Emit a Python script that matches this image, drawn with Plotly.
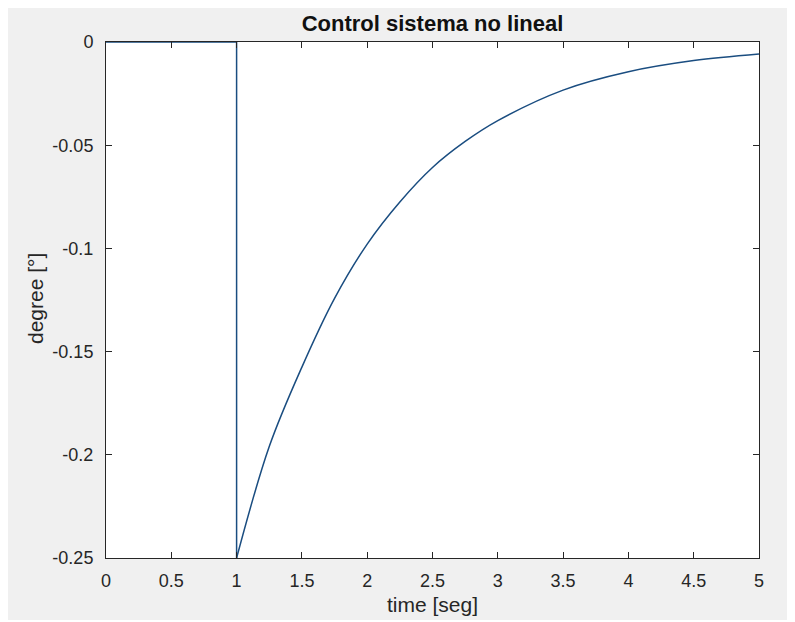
import plotly.graph_objects as go

# Step part of the response (before the disturbance decays)
step_t = [0, 1, 1]
step_deg = [0, 0, -0.25]

# Decay part
decay_t = [1, 1.25, 1.5, 1.75, 2, 2.25, 2.5, 2.75, 3, 3.5, 4, 4.5, 5]
decay_deg = [-0.25, -0.196, -0.1575, -0.1242, -0.0979, -0.0775, -0.0608,
             -0.0482, -0.0381, -0.0233, -0.0144, -0.0090, -0.0058]

x_ticks = [0, 0.5, 1, 1.5, 2, 2.5, 3, 3.5, 4, 4.5, 5]
x_labels = ["0", "0.5", "1", "1.5", "2", "2.5", "3", "3.5", "4", "4.5", "5"]
y_ticks = [0, -0.05, -0.1, -0.15, -0.2, -0.25]
y_labels = ["0", "-0.05", "-0.1", "-0.15", "-0.2", "-0.25"]

FONT = "Liberation Sans, Arial, sans-serif"
LINE = "#1a4d80"

# page offset of the figure (body margin) -> figure placed at (8, 8)
OFF = 8
# target page coordinates
FIG_R, FIG_B = 787, 620
PL, PR, PT, PB = 106, 759, 42, 558

W, H = FIG_R - OFF, FIG_B - OFF
L, T = PL - OFF, PT - OFF
R, B = FIG_R - PR, FIG_B - PB
pw, ph = PR - PL, PB - PT

def px(x):
    return (x - PL) / pw

def py(y):
    return (PB - y) / ph

fig = go.Figure()
fig.add_trace(go.Scatter(x=step_t, y=step_deg, mode="lines",
                         line=dict(color=LINE, width=1.5), showlegend=False))
fig.add_trace(go.Scatter(x=decay_t, y=decay_deg, mode="lines",
                         line=dict(color=LINE, width=1.5, shape="spline"),
                         showlegend=False))

axis_common = dict(
    showgrid=False, zeroline=False, showline=True, linecolor="#262626",
    linewidth=1, mirror="ticks", ticks="inside", ticklen=6, tickwidth=1,
    tickcolor="#262626", tickfont=dict(family=FONT, size=18, color="#262626"),
)

fig.update_xaxes(range=[0, 5], tickvals=x_ticks, ticktext=x_labels,
                 ticklabelstandoff=6, **axis_common)
fig.update_yaxes(range=[-0.25, 0], tickvals=y_ticks, ticktext=y_labels,
                 ticklabelstandoff=8, **axis_common)

fig.update_layout(
    width=W, height=H, autosize=False,
    margin=dict(l=L, r=R, t=T, b=B, pad=0),
    paper_bgcolor="#f0f0f0", plot_bgcolor="white",
    font=dict(family=FONT),
    title=dict(text="<b>Control sistema no lineal</b>",
               x=((PL + PR) / 2 - OFF) / W, xanchor="center",
               y=1 - (23 - OFF) / H, yanchor="middle",
               font=dict(family=FONT, size=22, color="#111111")),
    annotations=[
        dict(text="time [seg]", xref="paper", yref="paper", x=0.5, y=py(604),
             xanchor="center", yanchor="middle", showarrow=False,
             font=dict(family=FONT, size=21, color="#262626")),
        dict(text="degree [°]", xref="paper", yref="paper", x=px(35), y=py(299),
             xanchor="center", yanchor="middle", showarrow=False, textangle=-90,
             font=dict(family=FONT, size=21, color="#262626")),
    ],
)

fig.write_html("out.html")
